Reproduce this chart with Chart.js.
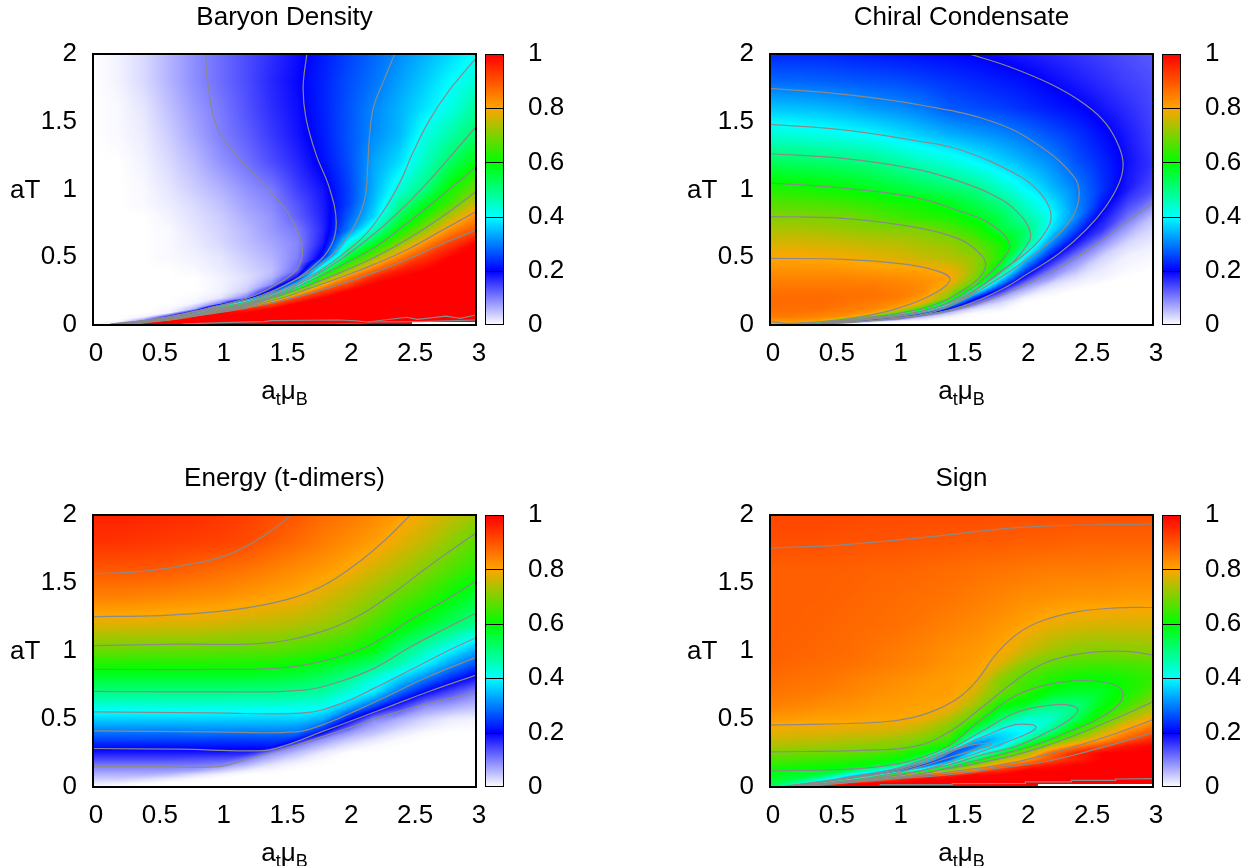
<!DOCTYPE html>
<html><head><meta charset="utf-8">
<script src="https://cdn.jsdelivr.net/npm/chart.js@4"></script>
<style>html,body{margin:0;padding:0;background:#fff;overflow:hidden}canvas{position:absolute}</style>
</head><body>
<script>
// grid axes shared by the heat maps
const xGrid=[0,.2,.4,.6,.8,1,1.2,1.4,1.6,1.8,2,2.2,2.4,2.6,2.8,3];
const yGrid=[0,.015,.03,.06,.09,.12,.16,.2,.25,.3,.35,.4,.5,.6,.7,.8,.9,1,1.2,1.4,1.6,1.8,2];
const xTicks=[0,.5,1,1.5,2,2.5,3];
const yTicks=[0,.5,1,1.5,2];
const barTicks=[0,.2,.4,.6,.8,1];
const titles=['Baryon Density','Chiral Condensate','Energy (t-dimers)','Sign'];

// null = no colour (white) in the reference
const baryon=[
[0,0,1,1,1,1,1,1,.95,.9,.7,null,null,null,null,null],
[0,.02,1,1,1,1,1,1,1,1,1,1,1,null,null,null],
[0,0,.1,1,1,1,1,1,1,1,1,1,1,1,1,1],
[0,0,.01,.2,1,1,1,1,1,1,1,1,1,1,1,1],
[0,0,0,.01,.3,1,1,1,1,1,1,1,1,1,1,1],
[0,0,0,.005,.06,.7,.95,1,1,1,1,1,1,1,1,1],
[0,0,0,0,.01,.1,.6,.9,1,1,1,1,1,1,1,1],
[0,0,0,0,.005,.02,.1,.6,.92,1,1,1,1,1,1,1],
[0,0,0,0,0,.01,.04,.22,.7,.92,1,1,1,1,1,1],
[0,0,0,0,0,.01,.03,.09,.38,.78,.92,1,1,1,1,1],
[0,0,0,0,0,.01,.025,.06,.2,.65,.85,.96,1,1,1,1],
[0,0,0,0,.005,.015,.03,.05,.12,.5,.72,.88,.97,1,1,1],
[0,0,0,.005,.01,.02,.04,.06,.1,.22,.56,.7,.84,.94,1,1],
[0,0,0,.005,.015,.03,.05,.07,.095,.18,.42,.57,.7,.83,.93,1],
[0,0,0,.005,.02,.035,.055,.08,.105,.17,.3,.45,.6,.71,.83,.9],
[0,0,0,.01,.025,.04,.065,.085,.125,.175,.27,.37,.53,.63,.74,.83],
[0,0,.005,.015,.03,.05,.075,.095,.135,.18,.25,.35,.48,.57,.65,.76],
[0,0,.005,.02,.04,.06,.085,.105,.15,.185,.25,.34,.43,.5,.61,.69],
[0,0,.01,.03,.055,.085,.11,.14,.17,.21,.26,.33,.375,.45,.525,.59],
[0,.005,.015,.04,.07,.1,.125,.155,.185,.22,.265,.31,.345,.42,.47,.52],
[0,.005,.02,.05,.08,.105,.135,.165,.19,.225,.265,.305,.34,.38,.42,.48],
[0,.01,.03,.06,.09,.115,.14,.17,.195,.225,.26,.29,.325,.36,.4,.43],
[0,.01,.03,.06,.09,.115,.14,.165,.19,.22,.25,.28,.31,.34,.37,.405]];
const baryonEdge=[.0005,.003,.02,.045,.075,.105,.125,.163,.205,.255,.32,.385,.46,.54,.625,.7];

const chiral=[
[.75,.4,0,0,0,0,0,0,0,0,0,0,0,0,0,0],
[.79,.8,.3,.03,0,0,0,0,0,0,0,0,0,0,0,0],
[.82,.82,.8,.5,.07,.01,0,0,0,0,0,0,0,0,0,0],
[.85,.85,.84,.82,.68,.25,.05,.01,0,0,0,0,0,0,0,0],
[.86,.86,.85,.84,.81,.68,.32,.05,.005,0,0,0,0,0,0,0],
[.865,.865,.865,.85,.84,.8,.62,.22,.03,.01,0,0,0,0,0,0],
[.87,.87,.87,.86,.85,.83,.78,.47,.12,.03,0,0,0,0,0,0],
[.87,.87,.87,.865,.86,.85,.81,.7,.24,.07,.01,0,0,0,0,0],
[.86,.865,.865,.86,.86,.85,.83,.74,.46,.17,.05,.01,0,0,0,0],
[.85,.85,.85,.85,.85,.84,.83,.79,.66,.3,.1,.03,.01,0,0,0],
[.84,.84,.84,.84,.835,.83,.82,.805,.7,.42,.18,.08,.025,.01,0,0],
[.825,.825,.825,.82,.815,.81,.805,.79,.72,.55,.25,.11,.05,.015,.005,0],
[.8,.8,.795,.79,.78,.77,.755,.74,.715,.63,.39,.205,.1,.035,.01,.005],
[.77,.77,.765,.76,.75,.745,.73,.72,.68,.62,.51,.31,.18,.09,.03,.015],
[.735,.735,.73,.72,.71,.705,.7,.67,.63,.56,.515,.38,.25,.16,.07,.03],
[.7,.7,.695,.69,.67,.65,.63,.615,.58,.54,.47,.405,.31,.19,.115,.05],
[.665,.66,.655,.645,.63,.615,.605,.575,.54,.5,.44,.38,.305,.22,.15,.1],
[.625,.62,.61,.6,.58,.56,.54,.52,.5,.45,.4,.35,.3,.24,.18,.14],
[.53,.525,.52,.51,.5,.475,.45,.43,.4,.37,.34,.31,.265,.23,.19,.16],
[.435,.43,.42,.41,.4,.38,.36,.34,.325,.31,.29,.265,.24,.21,.18,.15],
[.355,.35,.345,.335,.32,.31,.295,.27,.26,.25,.235,.22,.205,.185,.165,.145],
[.28,.28,.275,.27,.265,.26,.25,.24,.23,.22,.21,.195,.18,.165,.15,.14],
[.23,.23,.23,.225,.22,.215,.21,.205,.2,.19,.18,.17,.16,.15,.14,.13]];
const chiralEdge=[.0005,.003,.01,.022,.035,.05,.078,.105,.155,.215,.295,.385,.49,.63,.765,.898];

const energy=[
[0,0,0,0,0,0,0,0,0,0,0,0,0,0,0,0],
[.01,.005,0,0,0,0,0,0,0,0,0,0,0,0,0,0],
[.02,.015,.005,0,0,0,0,0,0,0,0,0,0,0,0,0],
[.04,.04,.03,.015,.005,0,0,0,0,0,0,0,0,0,0,0],
[.06,.06,.06,.05,.025,.01,0,0,0,0,0,0,0,0,0,0],
[.08,.08,.08,.08,.07,.04,.015,.005,0,0,0,0,0,0,0,0],
[.105,.105,.105,.105,.105,.095,.055,.02,.005,0,0,0,0,0,0,0],
[.14,.14,.14,.14,.135,.13,.095,.05,.02,.005,0,0,0,0,0,0],
[.18,.18,.18,.18,.18,.18,.175,.09,.05,.015,0,0,0,0,0,0],
[.215,.215,.215,.215,.215,.215,.215,.22,.095,.05,.02,.005,0,0,0,0],
[.255,.255,.255,.255,.255,.25,.25,.25,.22,.085,.045,.02,.005,0,0,0],
[.29,.29,.29,.29,.295,.295,.295,.295,.29,.205,.085,.05,.02,.005,0,0],
[.365,.365,.365,.365,.365,.365,.365,.365,.365,.335,.215,.095,.065,.035,.015,.01],
[.43,.43,.43,.43,.43,.43,.43,.43,.425,.42,.36,.27,.17,.095,.075,.055],
[.5,.5,.5,.5,.5,.5,.495,.495,.49,.475,.435,.39,.29,.205,.145,.1],
[.56,.56,.56,.56,.56,.56,.56,.555,.545,.525,.49,.43,.37,.305,.235,.18],
[.62,.62,.62,.62,.62,.62,.615,.61,.6,.575,.545,.51,.46,.395,.32,.26],
[.68,.68,.675,.675,.675,.67,.67,.67,.655,.64,.62,.585,.505,.45,.395,.33],
[.775,.775,.775,.77,.77,.765,.755,.75,.74,.725,.7,.66,.615,.57,.53,.49],
[.845,.845,.84,.835,.83,.825,.815,.805,.795,.77,.745,.715,.675,.645,.6,.56],
[.895,.895,.895,.89,.88,.87,.86,.845,.83,.815,.795,.765,.735,.7,.665,.63],
[.94,.94,.935,.93,.925,.92,.91,.89,.87,.85,.83,.81,.78,.75,.71,.67],
[.96,.96,.955,.95,.945,.935,.925,.91,.895,.87,.855,.835,.81,.785,.755,.725]];
const energyEdge=[.15,.15,.15,.15,.15,.155,.2,.25,.31,.37,.435,.495,.555,.61,.65,.693];

const sign=[
[.55,1,1,1,1,1,1,1,1,1,1,null,null,null,null,null],
[.55,.45,.9,1,1,1,1,1,1,1,1,null,null,null,null,null],
[.56,.48,.4,.95,1,1,1,1,1,1,1,1,1,1,1,1],
[.57,.55,.45,.3,.8,.95,1,1,1,1,1,1,1,1,1,1],
[.585,.57,.55,.42,.28,.7,.88,.95,1,1,1,1,1,1,1,1],
[.6,.59,.58,.56,.45,.25,.5,.7,.85,.95,1,1,1,1,1,1],
[.635,.625,.615,.605,.585,.52,.22,.5,.7,.85,.93,.98,1,1,1,1],
[.66,.655,.645,.635,.62,.6,.5,.27,.52,.72,.8,.9,.96,1,1,1],
[.695,.69,.685,.68,.665,.64,.595,.27,.4,.55,.72,.88,.96,1,1,1],
[.735,.73,.725,.715,.705,.7,.645,.6,.28,.37,.59,.74,.85,.91,.98,1],
[.76,.755,.75,.74,.735,.72,.7,.645,.38,.36,.47,.6,.73,.81,.89,.95],
[.78,.775,.775,.77,.765,.755,.725,.68,.52,.38,.4,.5,.65,.76,.84,.9],
[.815,.81,.805,.805,.8,.8,.785,.74,.66,.52,.43,.44,.53,.64,.74,.8],
[.845,.84,.83,.825,.815,.81,.805,.8,.73,.61,.57,.5,.5,.585,.65,.72],
[.86,.855,.85,.84,.83,.82,.81,.81,.77,.69,.64,.59,.57,.57,.615,.665],
[.87,.865,.86,.85,.84,.83,.82,.81,.8,.71,.655,.625,.605,.605,.62,.64],
[.88,.875,.87,.865,.855,.845,.835,.82,.81,.77,.705,.67,.655,.65,.655,.66],
[.885,.88,.875,.87,.86,.85,.84,.825,.815,.8,.76,.725,.705,.7,.705,.71],
[.885,.885,.88,.875,.87,.865,.855,.845,.835,.82,.805,.785,.775,.77,.77,.77],
[.885,.885,.885,.88,.875,.87,.865,.86,.85,.84,.83,.825,.82,.82,.815,.815],
[.885,.885,.885,.885,.88,.88,.875,.87,.865,.86,.855,.85,.85,.85,.845,.845],
[.905,.905,.905,.9,.9,.9,.895,.895,.89,.89,.885,.885,.88,.88,.88,.88],
[.915,.915,.915,.915,.91,.91,.91,.91,.91,.905,.905,.905,.905,.905,.905,.905]];
const signEdge=[.002,.012,.035,.07,.1,.125,.16,.215,.275,.35,.42,.49,.56,.6,.65,.7];

// contour lines: flat x,y lists in data units
const baryonContours=[
[.883,2,.892,1.833,.976,1.451,1.151,1.222,1.363,1.01,1.522,.836,1.614,.662,1.64,.538,1.6,.414,1.468,.315,1.257,.216,.948,.135,.528,.049,.137,.007],
[1.675,2,1.646,1.756,1.667,1.533,1.747,1.259,1.852,1.01,1.905,.762,1.866,.588,1.733,.439,1.548,.315,1.31,.216,1.087,.16,.8,.1,.5,.045,.14,.004],
[2.363,2,2.276,1.8,2.197,1.607,2.165,1.384,2.151,1.16,2.13,.937,2.051,.738,1.919,.563,1.733,.414,1.495,.29,1.31,.203,1.115,.15,.8,.097,.5,.043,.15,.003],
[3,1.97,2.79,1.731,2.633,1.508,2.5,1.26,2.408,1.06,2.289,.862,2.13,.663,1.945,.514,1.733,.376,1.495,.265,1.171,.15,.8,.094,.5,.04,.16,.003],
[3,1.463,2.79,1.233,2.58,1.01,2.368,.81,2.155,.636,1.945,.487,1.733,.363,1.495,.251,1.2,.15,.9,.1,.5,.04,.17,.002],
[3,1.167,2.737,.96,2.474,.762,2.21,.576,1.945,.439,1.733,.34,1.495,.24,1.2,.145,.9,.095,.5,.037,.18,.002],
[3,.986,2.737,.8,2.474,.638,2.21,.502,1.945,.39,1.68,.29,1.495,.228,1.2,.14,.9,.09,.5,.034,.19,.002],
[3,.837,2.737,.7,2.474,.563,2.21,.451,1.945,.352,1.68,.265,1.495,.203,1.2,.135,.9,.085,.5,.03,.2,.002],
[3,.7,2.737,.6,2.474,.489,2.21,.39,1.945,.303,1.68,.228,1.416,.166,1.2,.125,.9,.08,.5,.027,.2,.001]];
const baryonNoise=[
[.696,.007,1.004,.017,1.339,.025,1.395,.032,1.926,.037,2.066,.03,2.15,.022,2.457,.057,2.541,.042,2.765,.066,2.877,.049,3,.074],
[2.15,.022,2.57,.025,3,.037]];

const chiralContours=[
[3,.898,2.85,.8,2.565,.603,2.28,.43,1.996,.295,1.71,.184,1.427,.11,1,.05,.43,.012,.15,.002],
[1.562,2,1.875,1.906,2.214,1.771,2.474,1.624,2.63,1.488,2.734,1.316,2.766,1.181,2.734,1.046,2.63,.874,2.474,.701,2.266,.529,2.005,.37,1.854,.283,1.57,.16,1.285,.086,.717,.025,.2,.002],
[0,1.747,.6,1.7,1.2,1.62,1.745,1.5,2.1,1.33,2.38,1.095,2.422,.96,2.37,.8,2.24,.652,2.005,.48,1.7,.29,1.285,.098,.8,.045,.3,.006],
[0,1.48,.574,1.44,1.143,1.36,1.5,1.29,1.953,1.1,2.11,.98,2.2,.824,2.16,.689,2.03,.55,1.797,.39,1.513,.197,1.228,.098,.8,.045,.35,.006],
[0,1.264,.574,1.23,1.143,1.15,1.484,1.06,1.745,.96,1.93,.84,2.04,.68,1.99,.56,1.85,.42,1.513,.209,1.2,.105,.8,.05,.4,.01],
[0,1.048,.574,1.01,1.143,.94,1.484,.84,1.72,.75,1.875,.6,1.82,.48,1.693,.357,1.485,.209,1.228,.11,.8,.052,.4,.012],
[0,.8,.574,.787,1.143,.72,1.484,.634,1.63,.54,1.69,.45,1.64,.35,1.484,.24,1.285,.148,1,.085,.7,.05,.4,.015],
[0,.492,.574,.485,1,.455,1.285,.406,1.41,.34,1.3,.24,1,.123,.717,.062,.45,.028,.15,.012,0,.025]];

const energyContours=[
[0,.15,.53,.15,.976,.15,1.227,.209,1.51,.283,1.79,.369,2.07,.455,2.35,.541,2.625,.614,3,.693],
[0,.283,.67,.278,1.34,.268,1.51,.307,1.79,.405,2.07,.504,2.35,.602,2.625,.7,3,.823],
[0,.413,.95,.405,1.59,.405,1.79,.455,2.07,.565,2.35,.688,2.625,.811,3,.953],
[0,.553,.95,.545,1.65,.545,1.93,.609,2.2,.725,2.485,.86,2.765,.995,3,1.098],
[0,.703,.95,.7,1.65,.713,1.93,.774,2.2,.872,2.485,1.03,2.765,1.167,3,1.278],
[0,.865,.95,.865,1.51,.88,1.93,.958,2.2,1.057,2.485,1.228,2.765,1.376,3,1.516],
[0,1.04,.67,1.05,1.37,1.06,1.79,1.143,2.07,1.253,2.35,1.425,2.625,1.62,3,1.867],
[0,1.253,.53,1.26,1.09,1.302,1.51,1.376,1.79,1.474,2.07,1.646,2.29,1.818,2.485,2],
[0,1.568,.39,1.585,.81,1.646,1.09,1.72,1.37,1.867,1.55,2]];

const signContours=[
[0,1.757,.574,1.781,1.285,1.843,1.996,1.911,3,1.934],
[0,.455,.859,.476,1.124,.512,1.337,.582,1.496,.669,1.628,.792,1.761,.966,1.92,1.114,2.106,1.213,2.397,1.288,2.715,1.317,3,1.32],
[0,.258,.717,.27,1.124,.297,1.389,.397,1.655,.582,1.92,.78,2.133,.904,2.345,.966,2.584,.995,2.821,.995,3,.97],
[0,.118,.574,.13,.859,.15,1.124,.2,1.389,.297,1.655,.495,1.92,.669,2.133,.743,2.372,.78,2.584,.775,2.717,.743,2.765,.68,2.717,.594,2.557,.495,2.345,.408,2.079,.309,1.787,.235,1.522,.173,1.204,.099,.8,.05,.4,.015,.1,0],
[.08,0,.6,.07,1,.14,1.389,.27,1.655,.408,1.92,.544,2.133,.594,2.319,.606,2.412,.569,2.345,.495,2.159,.396,1.92,.297,1.655,.235,1.389,.16,1,.09,.5,.035,.09,0],
[.09,0,.6,.065,1,.13,1.25,.205,1.522,.309,1.736,.397,1.92,.458,2.053,.458,2.085,.438,2.026,.397,1.866,.335,1.655,.261,1.469,.2,1.2,.125,1,.085,.5,.033,.1,0],
[.1,0,.6,.06,1,.12,1.257,.19,1.522,.297,1.71,.323,1.729,.311,1.655,.286,1.469,.236,1.23,.165,1,.105,.5,.03,.11,0],
[3,.627,2.707,.504,2.423,.393,2.138,.295,1.854,.22,1.4,.135,1,.075,.5,.028,.12,0],
[3,.496,2.707,.393,2.423,.307,2.138,.233,1.854,.17,1.4,.11,1,.07,.5,.026,.12,0],
[3,.4,2.707,.319,2.423,.246,2.138,.184,1.854,.147,1.4,.09,1,.062,.5,.024,.13,0]];
const signNoise=[[.859,.017,1.427,.017,1.427,.025,2,.027,2,.037,2.36,.037,2.36,.049,2.707,.049,2.707,.059,3,.061]];

// palette stops
const stopAt=[0,.2,.4,.6,.8,1];
const stopRGB=[[255,255,255],[0,0,255],[0,255,255],[0,255,0],[255,165,0],[255,0,0]];

function paletteRGB(v){
  v=Math.max(0,Math.min(1,v));
  let i=0; while(i<stopAt.length-2&&v>stopAt[i+1])i++;
  const t=(v-stopAt[i])/(stopAt[i+1]-stopAt[i]);
  return stopRGB[i].map((c,k)=>c+(stopRGB[i+1][k]-c)*t);
}
function locate(a,v){let i=0;while(i<a.length-2&&v>a[i+1])i++;return [i,Math.max(0,Math.min(1,(v-a[i])/(a[i+1]-a[i])))];}
function pairs(f){const o=[];for(let i=0;i<f.length;i+=2)o.push({x:f[i],y:f[i+1]});return o;}
function blend(a,b,t){if(a===null||b===null)return t<.5?a:b;return a*(1-t)+b*t;}
// value of grid column q at height y
function columnValue(values,q,y){const [r,u]=locate(yGrid,y);return blend(values[r][q],values[r+1][q],u);}
// carry height y at the current x over to column q, keeping it on the same side of the edge curve
function carry(y,edgeHere,edgeQ){
  return y<edgeHere? y*edgeQ/edgeHere : edgeQ+(y-edgeHere)*(2-edgeQ)/(2-edgeHere);
}

const FONT="'Liberation Sans',Arial,sans-serif", FS=26;
const heatPlugin={id:'heat',beforeDatasetsDraw(c,a,o){
  const ar=c.chartArea,sx=c.scales.x,sy=c.scales.y;
  const L=Math.round(ar.left),T=Math.round(ar.top),W=Math.round(ar.right)-L,H=Math.round(ar.bottom)-T;
  const off=document.createElement('canvas');off.width=W;off.height=H;
  const g=off.getContext('2d'),img=g.createImageData(W,H);
  for(let i=0;i<W;i++){
    const [q,t]=locate(xGrid,sx.getValueForPixel(L+i+.5));
    const eH=o.edge[q]*(1-t)+o.edge[q+1]*t;
    for(let j=0;j<H;j++){
      const y=sy.getValueForPixel(T+j+.5);
      const v=blend(columnValue(o.values,q,carry(y,eH,o.edge[q])),columnValue(o.values,q+1,carry(y,eH,o.edge[q+1])),t);
      const p=(j*W+i)*4;
      const col=v===null?[255,255,255]:paletteRGB(v);
      img.data[p]=col[0];img.data[p+1]=col[1];img.data[p+2]=col[2];img.data[p+3]=255;
    }
  }
  g.putImageData(img,0,0);c.ctx.drawImage(off,L,T);
},afterDraw(c){
  const a=c.chartArea,x=c.ctx;x.save();
  x.strokeStyle='#000';x.lineWidth=2;x.strokeRect(a.left,a.top,a.right-a.left,a.bottom-a.top);
  x.fillStyle='#000';x.textBaseline='alphabetic';x.textAlign='left';
  const big=FS+'px '+FONT,small='18px '+FONT;
  const parts=[['a',big,0],['t',small,6],['μ',big,0],['B',small,6]];
  let w=0;parts.forEach(p=>{x.font=p[1];w+=x.measureText(p[0]).width;});
  let px=(a.left+a.right)/2-w/2;const base=a.bottom+74;
  parts.forEach(p=>{x.font=p[1];x.fillText(p[0],px,base+p[2]);px+=x.measureText(p[0]).width;});
  x.font=big;x.textBaseline='middle';x.fillText('aT',a.left-83,(a.top+a.bottom)/2+1);
  x.restore();
}};
const barPlugin={id:'bar',beforeDatasetsDraw(c){
  const a=c.chartArea,s=c.scales.y,x=c.ctx;
  const T=Math.round(a.top),B=Math.round(a.bottom);
  for(let j=T;j<B;j++){const col=paletteRGB(s.getValueForPixel(j+.5));
    x.fillStyle=`rgb(${col[0]|0},${col[1]|0},${col[2]|0})`;x.fillRect(a.left,j,a.right-a.left,1);}
},afterDraw(c){
  const a=c.chartArea,s=c.scales.y,x=c.ctx;x.save();x.strokeStyle='#000';x.lineWidth=1;
  barTicks.slice(1,-1).forEach(v=>{const y=Math.round(s.getPixelForValue(v))+.5;x.beginPath();x.moveTo(a.left,y);x.lineTo(a.right,y);x.stroke();});
  x.strokeRect(a.left+.5,a.top+.5,a.right-a.left-1,a.bottom-a.top-1);x.restore();
}};
function mkCanvas(l,t,w,h){const k=document.createElement('canvas');k.width=w;k.height=h;k.style.left=l+'px';k.style.top=t+'px';k.style.width=w+'px';k.style.height=h+'px';document.body.appendChild(k);return k;}
const tickFont={family:FONT,size:FS};
function panel(left,top,h,title,values,edge,contours,noise){
  const ds=contours.map(f=>({data:pairs(f),showLine:true,pointRadius:0,borderColor:'#8a8a8a',borderWidth:1.2,tension:.4}))
    .concat(noise.map(f=>({data:pairs(f),showLine:true,pointRadius:0,borderColor:'#8a8a8a',borderWidth:1.2,tension:0})));
  const plotH=top>100?272:271;
  new Chart(mkCanvas(left,top,496,h),{type:'scatter',data:{datasets:ds},plugins:[heatPlugin],options:{
    responsive:false,animation:false,events:[],layout:{padding:{right:20}},
    plugins:{heat:{values,edge},legend:{display:false},tooltip:{enabled:false},
      title:{display:true,text:title,fullSize:false,color:'#000',font:{family:FONT,size:FS,weight:'normal'},padding:{top:2,bottom:20.8}}},
    scales:{
      x:{type:'linear',min:0,max:3,grid:{display:false},border:{display:false},afterBuildTicks(s){s.ticks=xTicks.map(v=>({value:v}));},
        afterFit(s){s.height=h-54-plotH;s.paddingLeft=0;s.paddingRight=0;},
        ticks:{font:tickFont,color:'#000',padding:5,labelOffset:3,maxRotation:0,autoSkip:false,callback:v=>String(v)}},
      y:{type:'linear',min:0,max:2,grid:{display:false},border:{display:false},afterBuildTicks(s){s.ticks=yTicks.map(v=>({value:v}));},
        afterFit(s){s.width=93;s.paddingTop=0;s.paddingBottom=0;},
        ticks:{font:tickFont,color:'#000',padding:8,autoSkip:false,callback:v=>String(v)}}
    }}});
  new Chart(mkCanvas(left+480,top,90,h),{type:'scatter',data:{datasets:[{data:[]}]},plugins:[barPlugin],options:{
    responsive:false,animation:false,events:[],layout:{padding:{left:5,top:54,bottom:h-54-plotH}},
    plugins:{legend:{display:false},tooltip:{enabled:false}},
    scales:{
      x:{type:'linear',display:false},
      y:{type:'linear',position:'right',min:0,max:1,grid:{display:false},border:{display:false},afterBuildTicks(s){s.ticks=barTicks.map(v=>({value:v}));},
        afterFit(s){s.width=66;s.paddingTop=0;s.paddingBottom=0;},
        ticks:{font:tickFont,color:'#000',padding:16,autoSkip:false,callback:v=>String(v)}}
    }}});
}
panel(0,0,430,titles[0],baryon,baryonEdge,baryonContours,baryonNoise);
panel(677,0,430,titles[1],chiral,chiralEdge,chiralContours,[]);
panel(0,461,405,titles[2],energy,energyEdge,energyContours,[]);
panel(677,461,405,titles[3],sign,signEdge,signContours,signNoise);
</script>
</body></html>
